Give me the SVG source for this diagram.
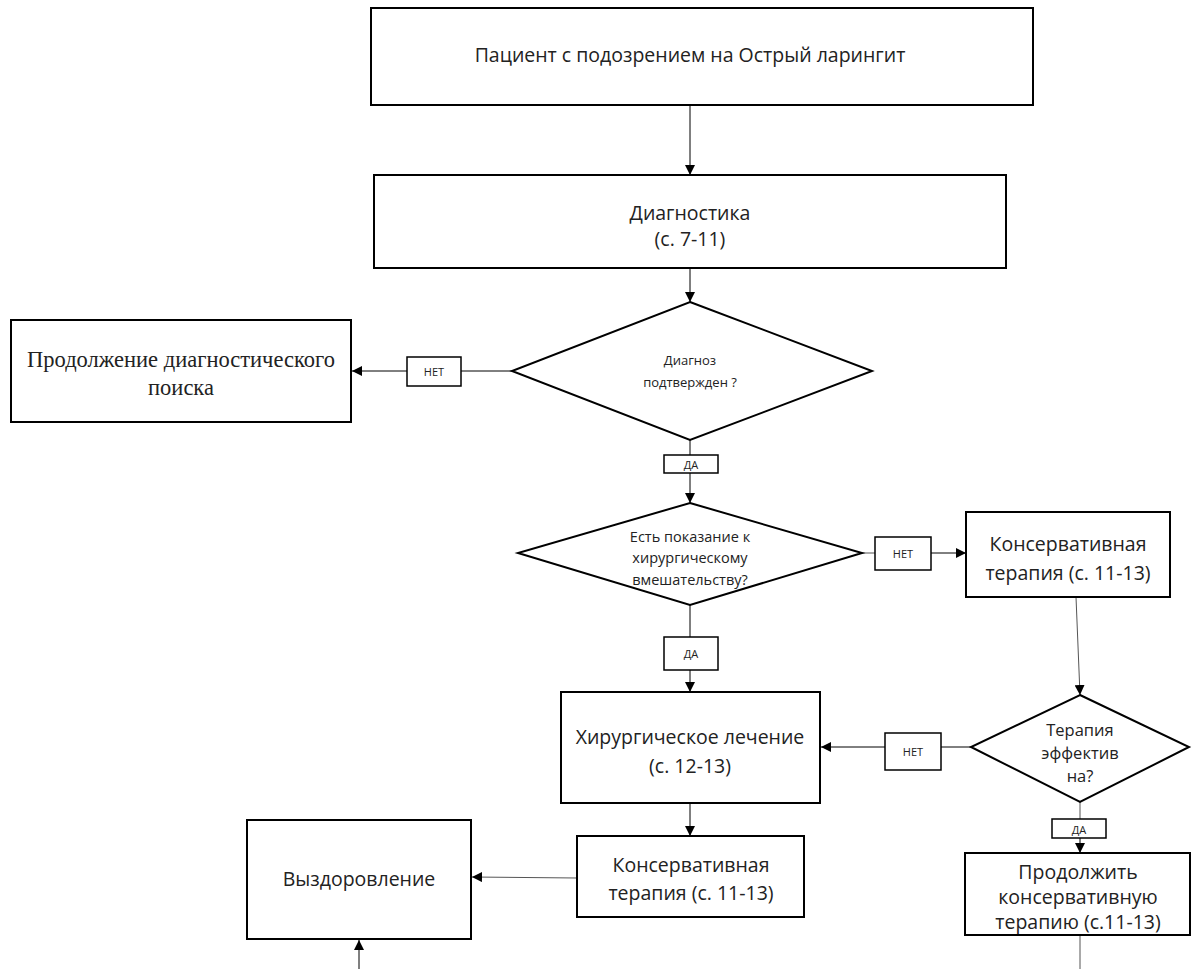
<svg xmlns="http://www.w3.org/2000/svg" width="1198" height="969" viewBox="0 0 1198 969">
<style>
.box{fill:#fff;stroke:#000;stroke-width:2}
.lbl{fill:#fff;stroke:#000;stroke-width:1.5}
.c{stroke:#000;stroke-width:1;fill:none}
.g{stroke:#555;stroke-width:1;fill:none}
text{font-family:"Open Sans","Liberation Sans",sans-serif;fill:#222;text-anchor:middle}
.serif{font-family:"Liberation Serif","Times New Roman",serif}
.m{font-size:19.5px}
.s{font-size:11px}
</style>
<defs>
<marker id="a" viewBox="0 0 10 10" refX="10" refY="5" markerWidth="10" markerHeight="10" markerUnits="userSpaceOnUse" orient="auto">
<path d="M0,0 L10,5 L0,10 z" fill="#000"/>
</marker>
</defs>
<rect width="1198" height="969" fill="#fff"/>
<g id="connectors">
<line class="c" x1="690" y1="105" x2="690" y2="175" marker-end="url(#a)"/>
<line class="c" x1="690" y1="268" x2="690" y2="302" marker-end="url(#a)"/>
<line class="c" x1="512" y1="371" x2="461" y2="371"/>
<line class="c" x1="407" y1="371" x2="352" y2="371" marker-end="url(#a)"/>
<line class="c" x1="690" y1="440" x2="690" y2="455"/>
<line class="c" x1="690" y1="473" x2="690" y2="503" marker-end="url(#a)"/>
<line class="g" x1="862" y1="553" x2="875" y2="553"/>
<line class="c" x1="931" y1="553" x2="966" y2="553" marker-end="url(#a)"/>
<line class="c" x1="690" y1="605" x2="690" y2="637"/>
<line class="c" x1="690" y1="670" x2="690" y2="692" marker-end="url(#a)"/>
<line class="g" x1="1076" y1="597" x2="1080" y2="695" marker-end="url(#a)"/>
<line class="c" x1="971" y1="747" x2="941" y2="747"/>
<line class="c" x1="885" y1="747" x2="821" y2="747" marker-end="url(#a)"/>
<line class="g" x1="1080" y1="802" x2="1080" y2="819"/>
<line class="c" x1="1080" y1="838" x2="1080" y2="853" marker-end="url(#a)"/>
<line class="g" x1="1080" y1="935" x2="1080" y2="969"/>
<line class="c" x1="690" y1="803" x2="690" y2="836" marker-end="url(#a)"/>
<line class="g" x1="577" y1="878" x2="472" y2="877" marker-end="url(#a)"/>
<line class="c" x1="359" y1="969" x2="359" y2="940" marker-end="url(#a)"/>
</g>
<g id="start">
<rect class="box" x="371" y="8" width="662" height="97"/>
<text class="m" x="690" y="62">Пациент с подозрением на Острый ларингит</text>
</g>
<g id="diag">
<rect class="box" x="374" y="175" width="632" height="93"/>
<text class="m" x="690" y="220">Диагностика</text>
<text class="m" x="690" y="246">(с. 7-11)</text>
</g>
<g id="dec1">
<polygon class="box" points="690,302 872,371 690,440 512,371"/>
<text x="690" y="365" font-size="13">Диагноз</text>
<text x="690" y="387" font-size="13">подтвержден ?</text>
</g>
<g id="no1">
<rect class="lbl" x="407" y="357" width="54" height="29"/>
<text class="s" x="434" y="376">НЕТ</text>
</g>
<g id="search">
<rect class="box" x="11" y="320" width="340" height="102"/>
<text class="serif" x="181" y="367" font-size="22.5">Продолжение диагностического</text>
<text class="serif" x="181" y="395" font-size="22.5">поиска</text>
</g>
<g id="yes1">
<rect class="lbl" x="664" y="455" width="54" height="18"/>
<text class="s" x="691" y="469">ДА</text>
</g>
<g id="dec2">
<polygon class="box" points="690,503 862,553 690,605 518,553"/>
<text x="690" y="542" font-size="14.5">Есть показание к</text>
<text x="690" y="563" font-size="14.5">хирургическому</text>
<text x="690" y="585" font-size="14.5">вмешательству?</text>
</g>
<g id="no2">
<rect class="lbl" x="875" y="537" width="56" height="33"/>
<text class="s" x="903" y="558">НЕТ</text>
</g>
<g id="cons1">
<rect class="box" x="966" y="512" width="204" height="85"/>
<text class="m" x="1068" y="551">Консервативная</text>
<text class="m" x="1068" y="580">терапия (с. 11-13)</text>
</g>
<g id="yes2">
<rect class="lbl" x="664" y="637" width="54" height="33"/>
<text class="s" x="691" y="658">ДА</text>
</g>
<g id="dec3">
<polygon class="box" points="1080,695 1189,747 1080,802 971,747"/>
<text x="1080" y="736" font-size="16.5">Терапия</text>
<text x="1080" y="759" font-size="16.5">эффектив</text>
<text x="1080" y="782" font-size="16.5">на?</text>
</g>
<g id="no3">
<rect class="lbl" x="885" y="733" width="56" height="37"/>
<text class="s" x="913" y="756">НЕТ</text>
</g>
<g id="surg">
<rect class="box" x="561" y="692" width="259" height="111"/>
<text class="m" x="690" y="744">Хирургическое лечение</text>
<text class="m" x="690" y="773">(с. 12-13)</text>
</g>
<g id="yes3">
<rect class="lbl" x="1052" y="819" width="54" height="19"/>
<text class="s" x="1079" y="834">ДА</text>
</g>
<g id="cont">
<rect class="box" x="965" y="853" width="225" height="82"/>
<text class="m" x="1078" y="879">Продолжить</text>
<text class="m" x="1078" y="904">консервативную</text>
<text class="m" x="1078" y="929">терапию (с.11-13)</text>
</g>
<g id="cons2">
<rect class="box" x="577" y="836" width="227" height="81"/>
<text class="m" x="691" y="872">Консервативная</text>
<text class="m" x="691" y="900">терапия (с. 11-13)</text>
</g>
<g id="recovery">
<rect class="box" x="247" y="820" width="224" height="119"/>
<text class="m" x="359" y="886">Выздоровление</text>
</g>
</svg>
